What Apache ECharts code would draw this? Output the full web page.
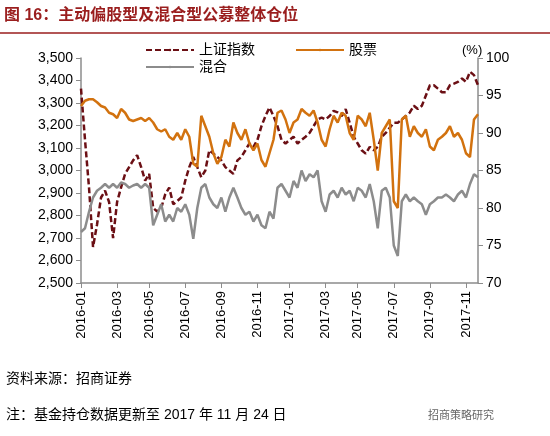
<!DOCTYPE html>
<html>
<head>
<meta charset="utf-8">
<script src="https://cdn.jsdelivr.net/npm/echarts@6/dist/echarts.min.js"></script>
<style>
    html, body { margin: 0; padding: 0; background: #fff; }
    #chart { width: 550px; height: 436px; }
</style>
</head>
<body>
<div id="chart"></div>
<script>
    // 上证指数（周）
    var szIndex = [3364,3136,2924,2660,2760,2880,2910,2860,2700,2860,2925,2985,3015,3045,3068,3015,2955,2985,2833,2818,
        2833,2894,2924,2850,2864,2880,2955,3015,3060,3015,2970,3000,3090,3075,3060,3045,3015,3000,2985,3045,
        3060,3090,3120,3105,3136,3197,3242,3280,3242,3197,3136,3120,3136,3150,3120,3136,3150,3167,3197,3227,
        3235,3227,3242,3265,3258,3242,3273,3212,3150,3120,3090,3075,3105,3090,3105,3150,3167,3190,3212,3212,
        3227,3242,3258,3288,3273,3288,3333,3379,3379,3364,3348,3348,3379,3386,3394,3409,3394,3439,3424,3379];
    // 股票型仓位 %
    var stockPos = [93.6,94.3,94.5,94.5,94.1,93.6,93.4,92.7,92.5,92.0,93.2,92.7,91.8,91.6,91.8,92.0,91.6,92.0,91.4,90.5,
        90.2,90.5,89.5,89.1,90.0,89.1,90.5,89.5,85.9,85.5,92.3,90.9,89.5,87.3,85.9,86.8,89.1,88.2,91.4,90.0,
        89.1,90.5,88.6,87.7,88.6,86.4,85.5,87.3,89.1,92.7,93.0,91.8,90.0,91.4,91.8,93.2,92.7,92.3,93.0,91.4,
        89.1,88.2,90.5,92.3,91.4,92.7,92.3,90.0,89.1,92.3,91.8,90.9,92.7,89.1,85.0,90.0,90.9,91.8,80.9,80.0,
        91.8,92.3,89.5,90.9,90.0,89.5,90.5,88.2,87.7,89.1,89.5,90.0,90.9,89.5,90.0,89.1,87.3,86.8,91.8,92.5];
    // 混合型仓位 %
    var mixPos = [76.8,77.3,79.5,81.4,82.3,82.7,83.2,82.7,83.2,82.7,83.4,83.2,82.7,83.0,83.2,82.7,83.2,82.7,77.7,79.1,
        80.5,78.2,79.1,78.2,80.0,79.5,80.5,79.1,75.9,80.0,82.7,83.2,81.4,80.5,80.0,81.4,79.5,81.4,82.7,81.4,
        80.0,79.1,79.5,78.2,79.1,77.7,77.3,79.5,78.6,82.7,83.2,82.3,81.4,83.6,82.7,85.0,83.6,84.5,84.1,85.0,
        80.9,79.5,81.8,82.3,81.4,82.7,81.8,82.3,80.9,82.7,82.3,81.4,83.2,80.9,77.3,82.3,82.7,81.4,75.0,73.6,
        80.9,81.8,80.9,81.4,80.9,80.5,79.1,80.5,80.9,81.4,81.4,81.8,81.4,80.9,81.8,82.3,81.4,83.2,84.5,84.1];

    // 周度日期
    var dates = [];
    var d = new Date(2016, 0, 4);
    for (var i = 0; i < szIndex.length; i++) {
        var m = d.getMonth() + 1;
        dates.push(d.getFullYear() + '-' + (m < 10 ? '0' + m : m) + '-' + (d.getDate() < 10 ? '0' : '') + d.getDate());
        d.setDate(d.getDate() + 7);
    }
    var showIdx = {};
    var seen = {};
    dates.forEach(function (s, i) {
        var ym = s.slice(0, 7), mm = +s.slice(5, 7);
        if (!seen[ym]) { seen[ym] = 1; if (mm % 2 === 1) showIdx[i] = 1; }
    });

    var font = "'Liberation Sans', 'Noto Sans CJK SC', sans-serif";
    var axisColor = '#8c8c8c';
    var myChart = echarts.init(document.getElementById('chart'));
    var option = {
        backgroundColor: '#fff',
        animation: false,
        textStyle: { fontFamily: font },
        graphic: [
            { type: 'text', left: 4, top: 8, style: { text: '图 16：主动偏股型及混合型公募整体仓位', fill: '#9a1e1e', font: 'bold 16px ' + font } },
            { type: 'line', shape: { x1: 0, y1: 33, x2: 550, y2: 33 }, style: { stroke: '#9a1e1e', lineWidth: 1.5 } },
            { type: 'text', left: 6, top: 372, style: { text: '资料来源：招商证券', fill: '#000', font: '14px ' + font } },
            { type: 'text', left: 6, top: 408, style: { text: '注：基金持仓数据更新至 2017 年 11 月 24 日', fill: '#000', font: '14px ' + font } },
            { type: 'text', left: 428, top: 410, style: { text: '招商策略研究', fill: '#666', font: '11px ' + font } },
            { type: 'text', left: 462, top: 44, style: { text: '(%)', fill: '#000', font: '13px ' + font } }
        ],
        legend: [{
            data: ['上证指数', '股票'],
            left: 140, top: 38, itemGap: 40, itemWidth: 48, itemHeight: 3,
            textStyle: { fontSize: 14, color: '#000' }
        }, {
            data: ['混合'],
            left: 140, top: 55, itemWidth: 48, itemHeight: 3,
            textStyle: { fontSize: 14, color: '#000' }
        }],
        grid: { left: 81, right: 72, top: 58, bottom: 153 },
        xAxis: {
            type: 'category', data: dates, boundaryGap: false,
            axisLine: { lineStyle: { color: axisColor, width: 1.5 } },
            axisTick: { interval: function (i) { return !!showIdx[i]; }, lineStyle: { color: axisColor } },
            axisLabel: {
                interval: function (i) { return !!showIdx[i]; }, rotate: 90, color: '#000', fontSize: 13,
                formatter: function (v) { return v.slice(0, 7); }
            }
        },
        yAxis: [{
            type: 'value', min: 2500, max: 3500, interval: 100,
            axisLine: { show: true, lineStyle: { color: axisColor, width: 1.5 } },
            axisTick: { show: true, lineStyle: { color: axisColor } },
            splitLine: { show: false },
            axisLabel: { color: '#000', fontSize: 14, formatter: function (v) { return v.toLocaleString('en-US'); } }
        }, {
            type: 'value', min: 70, max: 100, interval: 5,
            axisLine: { show: true, lineStyle: { color: axisColor, width: 1.5 } },
            axisTick: { show: true, lineStyle: { color: axisColor } },
            splitLine: { show: false },
            axisLabel: { color: '#000', fontSize: 14 }
        }],
        series: [{
            name: '上证指数', type: 'line', data: szIndex, symbol: 'none',
            lineStyle: { color: '#6b0f14', width: 2.5, type: [6, 3] }, itemStyle: { color: '#6b0f14' }
        }, {
            name: '股票', type: 'line', yAxisIndex: 1, data: stockPos, symbol: 'none',
            lineStyle: { color: '#d2720f', width: 2.5 }, itemStyle: { color: '#d2720f' }
        }, {
            name: '混合', type: 'line', yAxisIndex: 1, data: mixPos, symbol: 'none',
            lineStyle: { color: '#8c8c8c', width: 2.5 }, itemStyle: { color: '#8c8c8c' }
        }]
    };
    myChart.setOption(option);
</script>
</body>
</html>
